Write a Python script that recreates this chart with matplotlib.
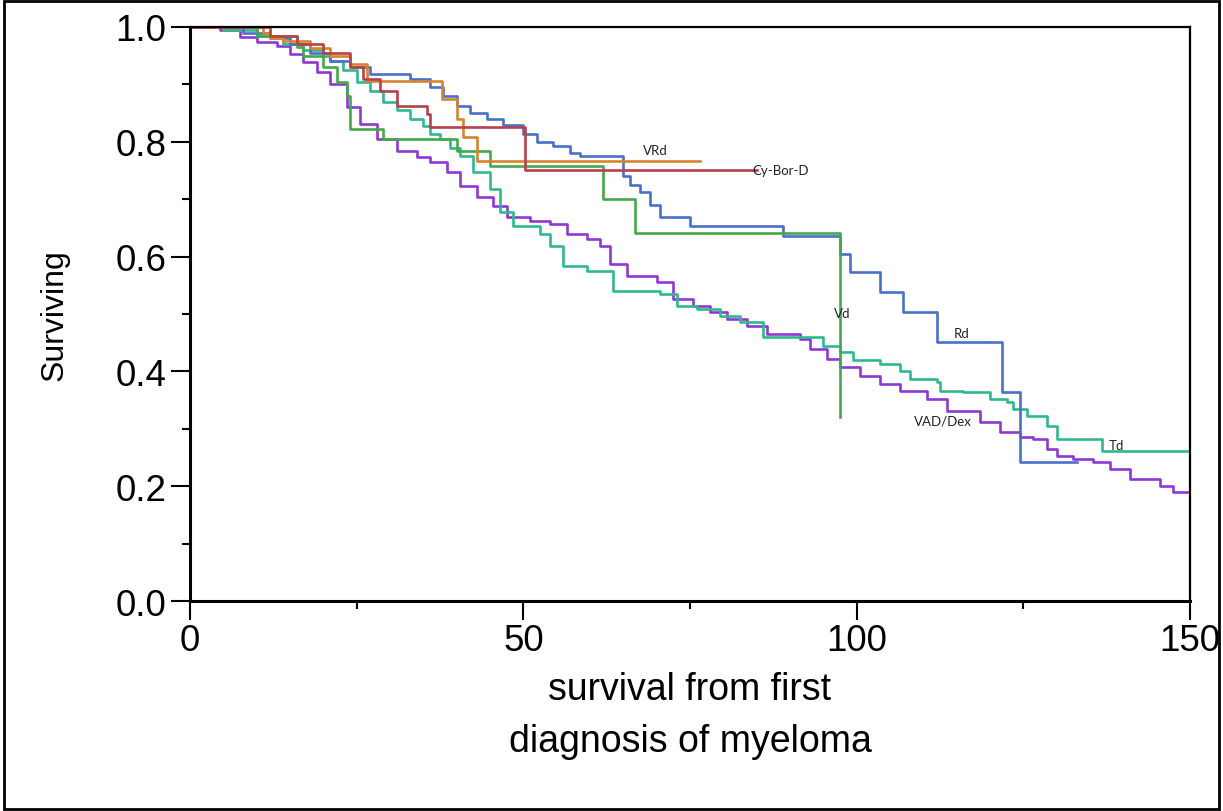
import matplotlib
matplotlib.use("Agg")
import matplotlib.pyplot as plt
from matplotlib.patches import Rectangle

# survival curves (months, fraction surviving)
vad_t = [0, 4.5, 7.5, 10, 13, 15, 17, 19, 21, 23.5, 25.5, 28, 31, 34, 36, 38.5, 40.5, 43, 45.5, 47.5,
         51, 54, 56.5, 59.5, 61.5, 63, 65.5, 70, 72.5, 75.5, 78, 80.5, 83.5, 86.5, 91.5, 93, 95.5, 97.5,
         100.5, 103.5, 106.5, 110.5, 113.5, 118.5, 121.5, 124.5, 126.5, 128.5, 130, 132.5, 135.5, 138,
         141, 145.5, 147.5, 150]
vad_s = [1.0, 0.995, 0.983, 0.974, 0.967, 0.953, 0.939, 0.922, 0.901, 0.861, 0.831, 0.805, 0.784, 0.773,
         0.765, 0.747, 0.723, 0.704, 0.688, 0.669, 0.662, 0.657, 0.639, 0.631, 0.618, 0.587, 0.566, 0.556,
         0.526, 0.514, 0.503, 0.491, 0.479, 0.465, 0.456, 0.439, 0.422, 0.408, 0.392, 0.378, 0.366, 0.352,
         0.331, 0.312, 0.294, 0.286, 0.282, 0.265, 0.253, 0.247, 0.242, 0.23, 0.212, 0.20, 0.19, 0.19]

td_t = [0, 5, 10, 14, 17, 20, 21, 23, 25, 27, 29, 31, 33, 35, 36, 37.5, 39, 40.5, 42.5, 45, 46.5, 48.5,
        52.5, 54, 56, 59.5, 63.5, 70.5, 73, 76, 79.5, 82.5, 86, 95, 97.5, 99.5, 103.5, 106.5, 108, 112,
        112.5, 116, 120, 122.5, 123.5, 125.5, 128.5, 130, 136.8, 150]
td_s = [1.0, 0.995, 0.985, 0.97, 0.96, 0.95, 0.94, 0.925, 0.905, 0.888, 0.87, 0.855, 0.84, 0.828, 0.813,
        0.805, 0.79, 0.775, 0.747, 0.718, 0.678, 0.653, 0.639, 0.618, 0.584, 0.575, 0.54, 0.535, 0.514,
        0.509, 0.497, 0.486, 0.46, 0.444, 0.434, 0.42, 0.413, 0.40, 0.387, 0.382, 0.366, 0.364, 0.352,
        0.347, 0.334, 0.322, 0.305, 0.282, 0.261, 0.261]

rd_t = [0, 8, 12, 15, 18, 21, 24, 27, 33, 36, 38, 40, 42, 44.5, 47, 50, 52, 54.5, 57, 58.5, 65, 66, 67.5,
        69, 70.5, 75, 89, 97.5, 99, 103.5, 107, 112, 121.8, 124.5, 133]
rd_s = [1.0, 0.99, 0.98, 0.97, 0.955, 0.94, 0.93, 0.918, 0.91, 0.895, 0.88, 0.862, 0.85, 0.84, 0.83,
        0.814, 0.80, 0.793, 0.78, 0.775, 0.74, 0.725, 0.712, 0.69, 0.669, 0.653, 0.636, 0.605, 0.573,
        0.538, 0.503, 0.451, 0.364, 0.242, 0.242]

vd_t = [0, 10, 16, 17, 20, 22, 23.5, 24, 29, 40, 45, 62, 66.7, 97.5]
vd_s = [1.0, 0.985, 0.965, 0.95, 0.93, 0.905, 0.88, 0.822, 0.805, 0.784, 0.758, 0.70, 0.641, 0.32]

vrd_t = [0, 11, 12, 14, 18, 21, 24, 26.5, 37.8, 40, 41, 43, 76.5]
vrd_s = [1.0, 0.99, 0.98, 0.975, 0.963, 0.95, 0.935, 0.906, 0.875, 0.84, 0.808, 0.767, 0.767]

cbd_t = [0, 12, 16, 20, 24, 26, 28.5, 31, 35.5, 36, 50.3, 85]
cbd_s = [1.0, 0.985, 0.97, 0.955, 0.93, 0.91, 0.888, 0.862, 0.848, 0.826, 0.751, 0.751]

fig = plt.figure(figsize=(12.23, 8.12), dpi=100)
ax = fig.add_axes([190/1223, 1-602/812, 1000/1223, 574/812])

lw = 1.9
ax.plot(vad_t, vad_s, drawstyle="steps-post", color="#8E38D4", lw=lw)
ax.plot(td_t, td_s, drawstyle="steps-post", color="#2FB98E", lw=lw)
ax.plot(rd_t, rd_s, drawstyle="steps-post", color="#4A70CC", lw=lw)
ax.plot(vd_t, vd_s, drawstyle="steps-post", color="#45A84A", lw=lw)
ax.plot(vrd_t, vrd_s, drawstyle="steps-post", color="#D8842E", lw=lw)
ax.plot(cbd_t, cbd_s, drawstyle="steps-post", color="#B8404C", lw=lw)

# curve labels
lab = dict(fontsize=9.5, color="#222222", family="Lato")
ax.text(69.8, 0.786, "VRd", ha="center", va="center", **lab)
ax.text(84.3, 0.751, "Cy-Bor-D", ha="left", va="center", **lab)
ax.text(97.8, 0.502, "Vd", ha="center", va="center", **lab)
ax.text(115.8, 0.467, "Rd", ha="center", va="center", **lab)
ax.text(113.0, 0.314, "VAD/Dex", ha="center", va="center", **lab)
ax.text(139.0, 0.272, "Td", ha="center", va="center", **lab)

ax.set_xlim(0, 150)
ax.set_ylim(0, 1.0)
ax.set_xticks([0, 50, 100, 150])
ax.set_xticks([25, 75, 125], minor=True)
ax.set_yticks([0, 0.2, 0.4, 0.6, 0.8, 1.0])
ax.set_yticks([0.1, 0.3, 0.5, 0.7, 0.9], minor=True)
ax.set_yticklabels(["0.0", "0.2", "0.4", "0.6", "0.8", "1.0"])
ax.tick_params(which="major", direction="out", length=14, width=1.5, labelsize=26.5)
ax.tick_params(axis="y", which="major", pad=3)
ax.tick_params(axis="x", which="major", pad=2)
ax.tick_params(which="minor", direction="out", length=6, width=1.5)
for lbl in ax.get_xticklabels() + ax.get_yticklabels():
    lbl.set_family("Liberation Sans")

for side in ["left", "bottom"]:
    ax.spines[side].set_linewidth(2.2)
for side in ["top", "right"]:
    ax.spines[side].set_linewidth(1.6)

fig.text(55/1223, 1-315/812, "Surviving", rotation=90, ha="center", va="center",
         fontsize=23, family="Liberation Sans")
fig.text(690/1223, 1-690/812, "survival from first", ha="center", va="center",
         fontsize=27, family="Liberation Sans")
fig.text(690/1223, 1-742/812, "diagnosis of myeloma", ha="center", va="center",
         fontsize=27, family="Liberation Sans")

# outer frame
fig.patches.append(Rectangle((0.003, 0.003), 0.994, 0.994, transform=fig.transFigure,
                             fill=False, edgecolor="black", linewidth=2))

fig.savefig("out.png", dpi=100)
